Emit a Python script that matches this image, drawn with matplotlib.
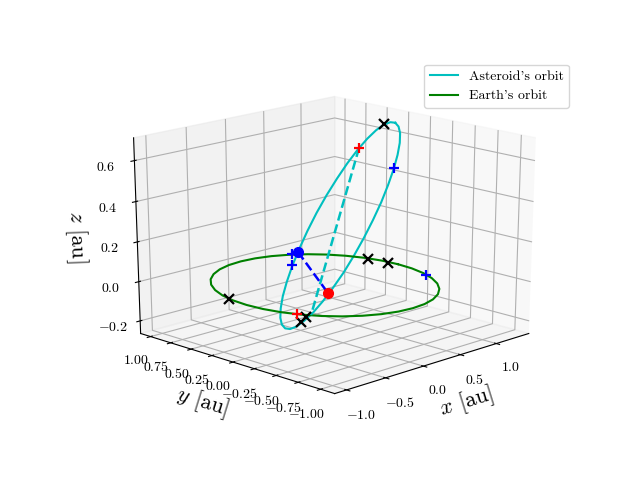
import numpy as np
import matplotlib
matplotlib.use('Agg')
import matplotlib.pyplot as plt
plt.rcParams['font.family']=['cmr10']
plt.rcParams['mathtext.fontset']='cm'
plt.rcParams['axes.formatter.use_mathtext']=True
plt.rcParams['axes.unicode_minus']=True

earth_x=[1.03,1.015,.97,.896,.796,.673,.53,.372,.204,.03,-.144,-.312,-.47,-.613,-.736,-.836,-.91,-.955,-.97,-.955,-.91,-.836,-.736,-.613,-.47,-.312,-.144,.03,.204,.372,.53,.673,.796,.896,.97,1.015,1.03]
earth_y=[-.005,.169,.337,.495,.638,.761,.861,.935,.98,.995,.98,.935,.861,.761,.638,.495,.337,.169,-.005,-.179,-.347,-.505,-.648,-.771,-.871,-.945,-.99,-1.005,-.99,-.945,-.871,-.771,-.648,-.505,-.347,-.179,-.005]
earth_z=[0]*37
ast_x=[1.339,1.396,1.429,1.436,1.418,1.373,1.305,1.214,1.103,.976,.838,.693,.544,.399,.26,.134,.022,-.071,-.142,-.192,-.216,-.217,-.192,-.145,-.077,.012,.117,.237,.367,.505,.645,.786,.921,1.048,1.162,1.26,1.339]
ast_y=[.3,.404,.507,.604,.693,.77,.833,.879,.909,.919,.91,.881,.835,.773,.697,.609,.513,.411,.307,.203,.104,.012,-.071,-.142,-.199,-.243,-.269,-.278,-.27,-.246,-.204,-.148,-.078,.004,.096,.196,.3]
ast_z=[.66,.649,.625,.587,.537,.476,.407,.331,.251,.17,.089,.013,-.057,-.119,-.17,-.209,-.235,-.247,-.246,-.231,-.203,-.162,-.112,-.052,.015,.087,.163,.24,.316,.389,.457,.518,.57,.611,.641,.657,.66]
apsis_x=[1.382,-.205]; apsis_y=[.76,-.057]; apsis_z=[.486,-.126]
node_x=[.664,-.162]; node_y=[.871,-.216]; node_z=[0,0]
black_x=[-.95,.963,.993,-.858,1.436,-.203]
black_y=[.222,.289,.08,-.581,.512,.063]
black_z=[0,0,0,0,.627,-.176]
blue_x=[.937,.57,.796,.559]
blue_y=[-.406,.861,-.143,.852]
blue_z=[0,0,.522,-.055]
red_x=[-.849,1.382]
red_y=[-.472,.76]
red_z=[0,.486]
x_ticks=[-1,-.5,0,.5,1]
y_ticks=[-1,-.75,-.5,-.25,0,.25,.5,.75,1]
z_ticks=[-.2,0,.2,.4,.6]

fig=plt.figure()
ax=fig.add_subplot(projection='3d')
ax.apply_aspect=lambda position=None: None
ax.set_box_aspect((1,1,1),zoom=0.947)
ax.plot(ast_x,ast_y,ast_z,color='c',label="Asteroid's orbit")
ax.plot(earth_x,earth_y,earth_z,color='g',label="Earth's orbit")
ax.plot(apsis_x,apsis_y,apsis_z,color='c',ls='--',lw=1.8)
ax.plot(node_x,node_y,node_z,color='b',ls='--',lw=1.8)
ax.plot(black_x,black_y,black_z,'kx',ms=7.5,mew=1.6)
ax.plot(blue_x,blue_y,blue_z,'b+',ms=7.5,mew=1.6)
ax.plot(red_x,red_y,red_z,'r+',ms=7.5,mew=1.6)
ax.plot(node_x[:1],node_y[:1],node_z[:1],'bo',ms=7)
ax.plot(node_x[1:],node_y[1:],node_z[1:],'ro',ms=7)
ax.set_xlim(-1.149,1.464);ax.set_ylim(-1.154,1.125);ax.set_zlim(-.265,.71)
ax.set_xticks(x_ticks);ax.set_yticks(y_ticks);ax.set_zticks(z_ticks)
ax.view_init(20,-135)
ax.set_xlabel('$x$ [au]',fontsize=16);ax.set_ylabel('$y$ [au]',fontsize=16);ax.set_zlabel('$z$ [au]',fontsize=16)
ax.legend()
fig.savefig('out.png',dpi=100)
